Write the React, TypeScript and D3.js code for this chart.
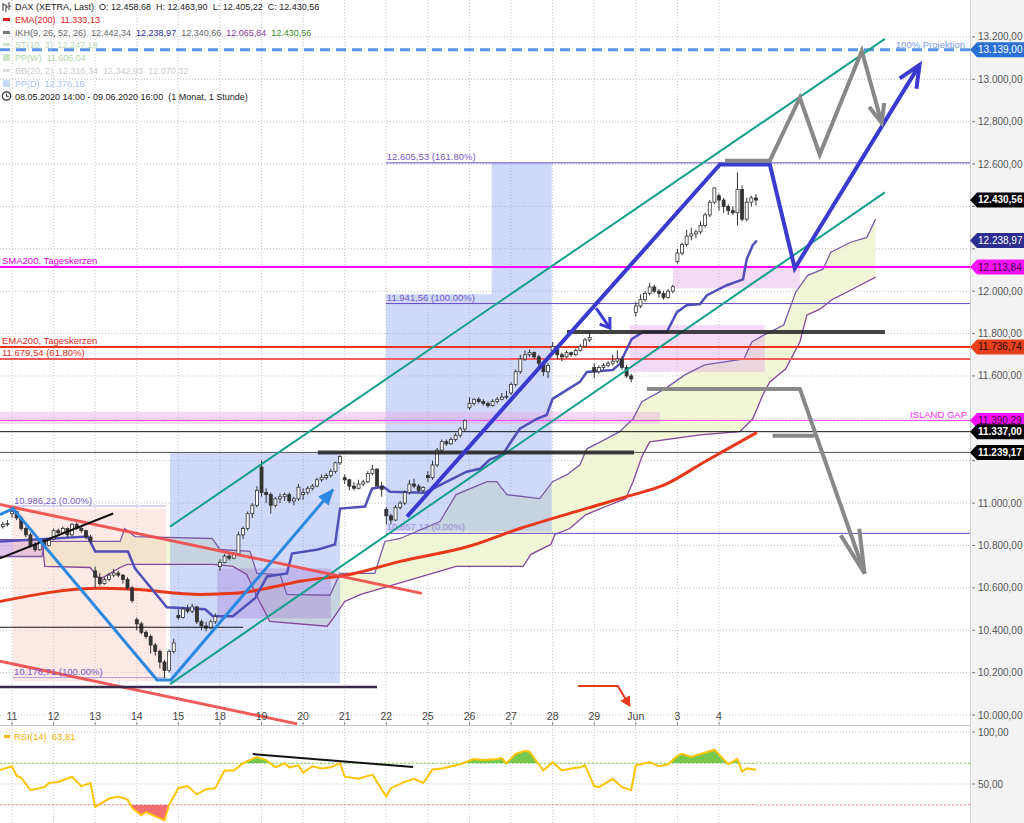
import React from 'react'
import * as d3 from 'd3'

type Pt = [number, number]
type Ohlc = [number, number, number, number]

// time axis: 4 hourly bars of 8 May, then 9 bars per trading day
const dayLabels = ['11', '12', '13', '14', '15', '18', '19', '20', '21', '22', '25', '26', '27', '28', '29', 'Jun', '3', '4']
const barsPerDay = 9
const firstDayBar = 4

// hourly candles [open, high, low, close]
const candles: Ohlc[] = [
  // 8 May
  [10860, 10880, 10850, 10870], [10870, 10900, 10860, 10890], [10890, 10910, 10880, 10900], [10900, 10920, 10890, 10904],
  // 11 May
  [10950, 10986, 10930, 10960], [10960, 10965, 10920, 10930], [10930, 10940, 10870, 10880], [10880, 10890, 10840, 10850],
  [10850, 10860, 10790, 10800], [10800, 10815, 10770, 10780], [10780, 10830, 10775, 10820], [10820, 10830, 10790, 10800], [10800, 10830, 10795, 10824],
  // 12 May
  [10830, 10880, 10825, 10870], [10870, 10880, 10850, 10860], [10860, 10890, 10855, 10880], [10880, 10885, 10840, 10850],
  [10850, 10905, 10845, 10900], [10900, 10910, 10875, 10880], [10880, 10890, 10860, 10870], [10870, 10875, 10830, 10840], [10840, 10850, 10810, 10820],
  // 13 May
  [10680, 10700, 10600, 10650], [10650, 10670, 10610, 10620], [10620, 10650, 10615, 10640], [10640, 10670, 10630, 10660],
  [10660, 10690, 10650, 10670], [10670, 10680, 10650, 10660], [10660, 10665, 10620, 10640], [10640, 10650, 10590, 10600], [10600, 10610, 10530, 10540],
  // 14 May
  [10450, 10460, 10400, 10430], [10430, 10440, 10380, 10390], [10390, 10400, 10360, 10370], [10370, 10380, 10290, 10330],
  [10330, 10340, 10280, 10300], [10300, 10310, 10220, 10250], [10250, 10260, 10176, 10210], [10210, 10310, 10200, 10300], [10300, 10360, 10290, 10340],
  // 15 May
  [10470, 10500, 10450, 10460], [10460, 10510, 10455, 10500], [10500, 10520, 10480, 10490], [10490, 10525, 10480, 10510],
  [10510, 10515, 10430, 10440], [10440, 10450, 10400, 10420], [10420, 10440, 10395, 10410], [10410, 10450, 10405, 10440], [10440, 10480, 10430, 10465],
  // 18 May
  [10700, 10735, 10680, 10720], [10720, 10760, 10715, 10750], [10750, 10760, 10730, 10740], [10740, 10770, 10735, 10760],
  [10760, 10865, 10755, 10850], [10850, 10890, 10830, 10880], [10880, 10960, 10870, 10950], [10950, 11000, 10930, 10990], [10990, 11080, 10980, 11060],
  // 19 May
  [11170, 11200, 11030, 11050], [11050, 11070, 11000, 11040], [11040, 11050, 10950, 10990], [10990, 11030, 10980, 11020],
  [11020, 11045, 11000, 11030], [11030, 11050, 11010, 11040], [11040, 11050, 11000, 11010], [11010, 11030, 10990, 11020], [11020, 11090, 11010, 11075],
  // 20 May
  [11040, 11070, 11015, 11050], [11050, 11080, 11040, 11070], [11070, 11090, 11060, 11080], [11080, 11120, 11075, 11110],
  [11110, 11135, 11100, 11120], [11120, 11140, 11110, 11130], [11130, 11160, 11120, 11150], [11150, 11195, 11140, 11190], [11190, 11225, 11180, 11220],
  // 21 May
  [11120, 11135, 11090, 11110], [11110, 11115, 11060, 11080], [11080, 11100, 11060, 11070], [11070, 11110, 11065, 11090],
  [11090, 11110, 11080, 11100], [11100, 11150, 11095, 11140], [11140, 11180, 11130, 11160], [11160, 11165, 11080, 11080], [11080, 11100, 11030, 11065],
  // 22 May
  [10970, 10980, 10900, 10940], [10940, 10950, 10900, 10920], [10920, 10990, 10915, 10980], [10980, 11010, 10970, 11000],
  [11000, 11060, 10990, 11050], [11050, 11110, 11040, 11090], [11090, 11115, 11070, 11080], [11080, 11090, 11050, 11060], [11060, 11080, 11050, 11074],
  // 25 May
  [11130, 11150, 11100, 11120], [11120, 11200, 11110, 11180], [11180, 11260, 11170, 11250], [11250, 11300, 11240, 11290],
  [11290, 11300, 11270, 11280], [11280, 11310, 11275, 11300], [11300, 11330, 11290, 11320], [11320, 11360, 11310, 11350], [11350, 11395, 11340, 11390],
  // 26 May
  [11450, 11500, 11440, 11470], [11470, 11495, 11460, 11490], [11490, 11500, 11470, 11480], [11480, 11490, 11460, 11470],
  [11470, 11480, 11450, 11460], [11460, 11490, 11455, 11480], [11480, 11500, 11470, 11490], [11490, 11520, 11485, 11500], [11500, 11530, 11490, 11504],
  // 27 May
  [11520, 11570, 11510, 11560], [11560, 11630, 11550, 11620], [11620, 11700, 11610, 11680], [11680, 11720, 11670, 11700],
  [11700, 11725, 11690, 11710], [11710, 11715, 11680, 11690], [11690, 11700, 11640, 11660], [11660, 11670, 11600, 11620], [11620, 11660, 11590, 11650],
  // 28 May
  [11720, 11760, 11710, 11740], [11740, 11745, 11680, 11700], [11700, 11710, 11670, 11690], [11690, 11720, 11685, 11710],
  [11710, 11715, 11690, 11700], [11700, 11730, 11695, 11720], [11720, 11750, 11715, 11740], [11740, 11780, 11735, 11770], [11770, 11810, 11760, 11781],
  // 29 May
  [11640, 11660, 11590, 11620], [11620, 11650, 11610, 11640], [11640, 11660, 11630, 11650], [11650, 11670, 11640, 11660],
  [11660, 11700, 11650, 11670], [11670, 11720, 11660, 11680], [11680, 11690, 11630, 11640], [11640, 11650, 11590, 11600], [11600, 11610, 11570, 11586],
  // 2 Jun
  [11900, 11950, 11880, 11930], [11930, 11985, 11920, 11960], [11960, 12000, 11950, 11990], [11990, 12040, 11980, 12020],
  [12020, 12030, 11990, 12000], [12000, 12010, 11970, 11990], [11990, 12000, 11960, 11970], [11970, 12010, 11965, 12000], [12000, 12030, 11990, 12021],
  // 3 Jun
  [12140, 12200, 12130, 12180], [12180, 12230, 12170, 12220], [12220, 12290, 12210, 12260], [12260, 12300, 12240, 12270],
  [12270, 12290, 12250, 12280], [12280, 12330, 12270, 12310], [12310, 12370, 12300, 12360], [12360, 12430, 12350, 12420], [12420, 12490, 12410, 12487],
  // 4 Jun
  [12450, 12460, 12380, 12430], [12430, 12440, 12370, 12400], [12400, 12410, 12360, 12380], [12380, 12400, 12360, 12370],
  [12370, 12560, 12310, 12480], [12480, 12500, 12330, 12340], [12340, 12440, 12330, 12420], [12420, 12450, 12400, 12440], [12440, 12458, 12405, 12430],
]

// Ichimoku [bar, price]
const kijun: Pt[] = [
  [1.4, 10819], [20.4, 10842], [22, 10772], [29.1, 10772], [30.6, 10692], [37.5, 10508], [45.8, 10499], [47.5, 10466],
  [51.8, 10466], [56.6, 10551], [59.2, 10654], [63.5, 10668], [64.6, 10762], [70.2, 10781], [73.9, 10805], [75, 10974],
  [80.4, 10984], [81.9, 11068], [84.3, 11078], [85.8, 11054], [93.4, 11049], [98.1, 11101], [102.4, 11148], [105.3, 11162],
  [107.4, 11205], [110.2, 11228], [111.7, 11280], [113.9, 11351], [117.6, 11398], [119.7, 11416], [121, 11492], [124.1, 11534],
  [126.9, 11572], [128.4, 11619], [134, 11628], [135.5, 11656], [138.1, 11774], [140.5, 11807], [145.7, 11807], [147.9, 11901],
  [150, 11934], [152.9, 11939], [154.4, 11981], [158.7, 12028], [162.2, 12056], [163, 12151], [164.3, 12217], [165.2, 12239],
]
const senkouA: Pt[] = [
  [1.4, 10748], [10.5, 10748], [11.1, 10819], [27.4, 10819], [28.4, 10880], [30.6, 10842], [47.3, 10833], [49, 10781],
  [55.5, 10772], [57, 10668], [62, 10663], [63.5, 10569], [72.8, 10565], [75, 10668], [82.5, 10668], [84.7, 10819],
  [88, 10833], [96.6, 10913], [100.1, 11040], [106.8, 11101], [108.9, 11101], [111.1, 11040], [118.2, 11021], [121, 11101],
  [124.1, 11134], [126.9, 11181], [128.4, 11256], [132.7, 11304], [135.5, 11337], [138.4, 11398], [140.3, 11478], [145.3, 11539],
  [149.6, 11605], [153.9, 11652], [162.4, 11680], [164.1, 11760], [166.7, 11793], [171, 11840], [173.6, 11995], [176.2, 12075],
  [179.5, 12104], [181.2, 12184], [185.5, 12231], [189, 12254], [190.9, 12341],
]
const senkouB: Pt[] = [
  [1.4, 10828], [10.5, 10828], [11.1, 10701], [20.9, 10696], [23, 10640], [27.4, 10696], [28.9, 10711], [47.5, 10711],
  [51.8, 10701], [54.8, 10663], [57.2, 10551], [59.8, 10442], [72.2, 10419], [73.5, 10456], [76, 10536], [79.5, 10569],
  [100.1, 10701], [114.6, 10701], [116.3, 10758], [120.6, 10805], [121.5, 10852], [124.7, 10880], [128.2, 10946], [132.5, 10984],
  [136.8, 11021], [138.4, 11101], [140.3, 11219], [142, 11289], [152.9, 11322], [161.5, 11337], [164.3, 11398], [166.5, 11511],
  [168, 11572], [171.4, 11633], [174.5, 11760], [176, 11887], [178.8, 11915], [181.6, 11962], [184.6, 11995], [187.5, 12028],
  [190.9, 12066],
]
const ema200: Pt[] = [
  [1.4, 10536], [23, 10598], [30.2, 10593], [44.7, 10569], [52.2, 10574], [59.2, 10598], [66.3, 10631], [77.1, 10663],
  [88, 10725], [102.7, 10795], [113.9, 10880], [128.2, 10974], [137.7, 11035], [145.3, 11087], [153.9, 11195], [160.4, 11275],
  [165.2, 11333],
]

// RSI(14) [bar, value]
const rsi14: Pt[] = [
  [1, 63], [4, 67], [5, 58], [6, 56], [8, 44], [11, 47], [12, 51], [14, 52], [17, 57], [19, 48], [21, 51], [22, 28],
  [25, 36], [27, 38], [29, 35], [30, 27], [32, 20], [33, 23], [37, 15], [38, 30], [40, 46], [42, 48], [44, 40], [46, 45],
  [48, 46], [50, 63], [52, 63], [54, 70], [57, 76], [59, 73], [61, 66], [63, 70], [64, 66], [66, 68], [67, 61], [69, 67],
  [71, 65], [73, 66], [75, 70], [76, 57], [79, 55], [82, 59], [83, 52], [85, 38], [86, 46], [89, 52], [91, 55], [93, 51],
  [95, 64], [97, 65], [101, 69], [104, 74], [106, 73], [109, 74], [110, 75], [111, 70], [113, 79], [115, 82], [116, 81],
  [118, 69], [119, 63], [121, 71], [123, 63], [125, 65], [127, 66], [128, 68], [130, 48], [131, 47], [134, 55], [136, 47],
  [138, 44], [139, 68], [142, 71], [144, 67], [146, 69], [148, 77], [149, 79], [151, 76], [156, 83], [159, 69], [161, 74],
  [162, 62], [163, 65], [165, 63.81],
]

// price levels
const priceTicks = [10000, 10200, 10400, 10600, 10800, 11000, 11200, 11400, 11600, 11800, 12000, 12200, 12400, 12600, 12800, 13000, 13200]
const rsiTicks = [50, 100]
const sma200Daily = 12113.84
const ema200Daily = 11736.74
const fib618 = 11679.54
const islandGap = 11390.29
const support1 = 11337.0
const support2 = 11239.17
const projection = 13139.0
const fibRight = [10857.17, 11941.56, 12605.53]
const fibRightPct = [0, 100, 161.8]
const fibLeft = [10986.22, 10176.71]
const fibLeftPct = [0, 100]
const lastPrice = 12430.56
const kijunLast = 12238.97

// drawn boxes [barFrom, barTo, priceTop, priceBottom]
const blueBoxes = [[38.2, 75, 11239, 10150], [84.9, 120.8, 11986, 10866], [107.8, 120.8, 12605, 11986]]
const peachBoxes = [[4.2, 37.3, 10974, 10160]]
const purpleBoxes = [[48.4, 73, 10692, 10456]]
const pinkBoxes = [[-2, 144.2, 11431, 11374], [137.7, 166.9, 11840, 11619], [147, 174.5, 12122, 12014]]

// drawn lines [bar, price]
const channelUpper: Pt[] = [[38.2, 10889], [192.9, 13191]]
const channelLower: Pt[] = [[38.2, 10146], [192.9, 12466]]
const downtrendUpper: Pt[] = [[1.4, 10993], [92.7, 10574]]
const downtrendLower: Pt[] = [[1.4, 10254], [65.7, 9958]]
const shortUptrend: Pt[] = [[1.4, 10739], [25.9, 10951]]
const resistance1: Pt[] = [[70.2, 11239], [138.6, 11239]]
const resistance2: Pt[] = [[124.1, 11807], [192.9, 11807]]
const supportLeft: Pt[] = [[1.4, 10414], [54, 10414]]
const lowLine: Pt[] = [[1.4, 10132], [83, 10132]]
const waveDown: Pt[] = [[1.4, 10946], [4.2, 10974], [35.4, 10165], [38.2, 10165]]
const waveUp: Pt[] = [[38.2, 10160], [73.5, 11064]]
const mainPath: Pt[] = [[89.5, 10936], [157.2, 12598], [168, 12598], [173.4, 12108], [200.4, 13068]]
const pullback: Pt[] = [[130.4, 11920], [133.4, 11826]]
const grayUp: Pt[] = [[158.3, 12616], [168, 12616], [174.5, 12913], [178.8, 12645], [187.9, 13134], [192.2, 12795]]
const grayDown: Pt[] = [[141.4, 11539], [174.5, 11539], [188.5, 10668]]
const grayShort: Pt[] = [[168.6, 11318], [177.7, 11318]]
const redHint: Pt[] = [[126.5, 10137], [135.1, 10137], [137.7, 10042]]
const rsiDivergence: Pt[] = [[56.1, 78.8], [90.8, 66.3]]

const font = '"Liberation Sans", Arial, sans-serif'
const de = d3.formatLocale({ decimal: ',', thousands: '.', grouping: [3], currency: ['', ''] })
const fmt = de.format(',.2f')

function interp(pts: Pt[], b: number) {
  if (b <= pts[0][0]) return pts[0][1]
  for (let i = 1; i < pts.length; i++) {
    if (b <= pts[i][0]) {
      const t = (b - pts[i - 1][0]) / (pts[i][0] - pts[i - 1][0])
      return pts[i - 1][1] + t * (pts[i][1] - pts[i - 1][1])
    }
  }
  return pts[pts.length - 1][1]
}

export default function App() {
  const W = 1024
  const H = 823
  const plotRight = 970
  const x = d3.scaleLinear().domain([firstDayBar, firstDayBar + 17 * barsPerDay]).range([12, 719])
  const y = d3.scaleLinear().domain([10000, 13200]).range([715, 36.9])
  const ry = d3.scaleLinear().domain([50, 100]).range([784, 732])
  const line = d3.line<Pt>().x((d) => x(d[0])).y((d) => y(d[1]))
  const rline = d3.line<Pt>().x((d) => x(d[0])).y((d) => ry(d[1]))

  const head = (pts: Pt[], len: number, spread = 0.45) => {
    const a0 = pts[pts.length - 2]
    const a1 = pts[pts.length - 1]
    const x1 = x(a0[0]), y1 = y(a0[1]), x2 = x(a1[0]), y2 = y(a1[1])
    const a = Math.atan2(y2 - y1, x2 - x1)
    const l = [x2 - len * Math.cos(a - spread), y2 - len * Math.sin(a - spread)]
    const r = [x2 - len * Math.cos(a + spread), y2 - len * Math.sin(a + spread)]
    return `M${l[0]},${l[1]}L${x2},${y2}L${r[0]},${r[1]}`
  }

  // cloud
  const cloudBars = Array.from(new Set([...senkouA, ...senkouB].map((p) => p[0]))).sort((a, b) => a - b)
  const rows = cloudBars.map((b) => ({ b, a: interp(senkouA, b), s: interp(senkouB, b) }))
  const between = d3.area<any>().x((r) => x(r.b)).y0((r) => y(r.a)).y1((r) => y(r.s))(rows) || ''
  const aboveB = d3.area<any>().x((r) => x(r.b)).y0(0).y1((r) => y(r.s))(rows) || ''
  const belowB = d3.area<any>().x((r) => x(r.b)).y0((r) => y(r.s)).y1(H)(rows) || ''

  // rsi fills
  const over = d3.area<Pt>().x((d) => x(d[0])).y0(ry(70)).y1((d) => ry(d[1]))(rsi14) || ''
  const under = d3.area<Pt>().x((d) => x(d[0])).y0(ry(30)).y1((d) => ry(d[1]))(rsi14) || ''

  const dayX = dayLabels.map((_, k) => x(firstDayBar + k * barsPerDay))
  const box = (bx: number[], fill: string, op: number, key: string) => (
    <rect key={key} x={x(bx[0])} y={y(bx[2])} width={x(bx[1]) - x(bx[0])} height={y(bx[3]) - y(bx[2])} fill={fill} opacity={op} />
  )
  const hline = (p: number, color: string, w: number, from = 0, dash?: string) => (
    <line x1={from} x2={plotRight} y1={y(p)} y2={y(p)} stroke={color} strokeWidth={w} strokeDasharray={dash} />
  )

  const tags = [
    { v: projection, fill: '#2a6fd6', color: '#fff', bold: false },
    { v: lastPrice, fill: '#000', color: '#fff', bold: true },
    { v: kijunLast, fill: '#2d2d8f', color: '#fff', bold: false },
    { v: sma200Daily, fill: '#ff10ff', color: '#3a003a', bold: false },
    { v: ema200Daily, fill: '#e8401c', color: '#2a0a00', bold: false },
    { v: islandGap, fill: '#ff10ff', color: '#3a003a', bold: false },
    { v: support1, fill: '#000', color: '#fff', bold: true },
    { v: support2, fill: '#000', color: '#fff', bold: true },
  ]
  const freeTicks = priceTicks.filter((p) => tags.every((t) => Math.abs(y(p) - y(t.v)) > 10))

  const legendRows: { y: number; parts: { t: string; c: string }[] }[] = [
    { y: 10, parts: [{ t: 'DAX (XETRA, Last)', c: '#222' }, { t: 'O: 12.458,68', c: '#222' }, { t: 'H: 12.463,90', c: '#222' }, { t: 'L: 12.405,22', c: '#222' }, { t: 'C: 12.430,56', c: '#222' }] },
    { y: 23, parts: [{ t: 'EMA(200)', c: '#e02020' }, { t: '11.333,13', c: '#e02020' }] },
    { y: 35.5, parts: [{ t: 'IKH(9, 26, 52, 26)', c: '#666' }, { t: '12.442,34', c: '#666' }, { t: '12.238,97', c: '#2a2aa0' }, { t: '12.340,66', c: '#666' }, { t: '12.065,84', c: '#8a3aa0' }, { t: '12.430,56', c: '#3a8a2a' }] },
    { y: 48, parts: [{ t: 'ST(10, 3)', c: '#bcd8b4' }, { t: '12.247,18', c: '#bcd8b4' }] },
    { y: 61, parts: [{ t: 'PP(W)', c: '#b4d4ac' }, { t: '11.606,04', c: '#b4d4ac' }] },
    { y: 73.5, parts: [{ t: 'BB(20, 2)', c: '#cccccc' }, { t: '12.316,34', c: '#cccccc' }, { t: '12.342,93', c: '#cccccc' }, { t: '12.070,32', c: '#cccccc' }] },
    { y: 86.5, parts: [{ t: 'PP(D)', c: '#aac2f2' }, { t: '12.376,16', c: '#aac2f2' }] },
    { y: 99.5, parts: [{ t: '08.05.2020 14:00 - 09.06.2020 16:00', c: '#222' }, { t: '(1 Monat, 1 Stunde)', c: '#222' }] },
  ]

  return (
    <svg width={W} height={H} style={{ position: 'absolute', left: 0, top: 0, display: 'block', background: '#fff' }} fontFamily={font}>
      <defs>
        <clipPath id="aboveB"><path d={aboveB} /></clipPath>
        <clipPath id="belowB"><path d={belowB} /></clipPath>
        <clipPath id="rsiOver"><rect x={0} y={720} width={plotRight} height={ry(70) - 720} /></clipPath>
        <clipPath id="rsiUnder"><rect x={0} y={ry(30)} width={plotRight} height={H - ry(30)} /></clipPath>
      </defs>

      {/* axis strip */}
      <rect x={plotRight} y={0} width={W - plotRight} height={H} fill="#f3f3f3" />
      <line x1={plotRight + 0.5} x2={plotRight + 0.5} y1={0} y2={H} stroke="#cfcfcf" />

      {/* grid */}
      {priceTicks.map((p) => (
        <line key={'g' + p} x1={0} x2={plotRight} y1={y(p)} y2={y(p)} stroke="#c4c4c4" strokeDasharray="1,2" />
      ))}
      {dayX.map((dx, k) => (
        <line key={'v' + k} x1={dx} x2={dx} y1={0} y2={H} stroke="#c8c8c8" strokeDasharray="1,2" />
      ))}

      {/* cloud */}
      <path d={between} fill="#eef5cf" opacity={0.85} clipPath="url(#aboveB)" />
      <path d={between} fill="#c690d8" opacity={0.55} clipPath="url(#belowB)" />

      {/* boxes */}
      {peachBoxes.map((b, i) => box(b, '#f9c9bd', 0.4, 'pe' + i))}
      {blueBoxes.map((b, i) => box(b, '#8aa0f2', 0.4, 'bl' + i))}
      {purpleBoxes.map((b, i) => box(b, '#a070d0', 0.32, 'pu' + i))}
      {pinkBoxes.map((b, i) => box(b, '#e6a6e6', 0.42, 'pk' + i))}

      {/* cloud lines */}
      <path d={line(senkouA) || ''} fill="none" stroke="#7a5aa8" strokeWidth={1.3} />
      <path d={line(senkouB) || ''} fill="none" stroke="#84479c" strokeWidth={1.3} />

      {/* horizontal levels */}
      {hline(projection, '#5a94e6', 3, 0, '10,6')}
      {hline(sma200Daily, '#ff00ff', 2)}
      {hline(ema200Daily, '#ee3322', 2)}
      {hline(fib618, '#f25c5c', 2)}
      {hline(islandGap, '#ff44ff', 1)}
      {hline(support1, '#111', 1)}
      {hline(support2, '#555', 1)}
      {fibRight.map((p) => (
        <line key={'fr' + p} x1={x(84.9)} x2={plotRight} y1={y(p)} y2={y(p)} stroke="#6a48c8" strokeWidth={1} />
      ))}
      {fibLeft.map((p) => (
        <line key={'fl' + p} x1={x(4.2)} x2={x(37.3)} y1={y(p)} y2={y(p)} stroke="#8a70d0" strokeWidth={1} opacity={0.6} />
      ))}

      {/* EMA 200 and Kijun */}
      <path d={d3.line<Pt>().x((d) => x(d[0])).y((d) => y(d[1])).curve(d3.curveMonotoneX)(ema200) || ''} fill="none" stroke="#e8381c" strokeWidth={3} />
      <path d={line(kijun) || ''} fill="none" stroke="#5050b8" strokeWidth={2.5} />

      {/* candles */}
      {candles.map((c, i) => {
        const [o, h, l, cl] = c
        const cx = x(i)
        const up = cl >= o
        const top = y(Math.max(o, cl))
        const hgt = Math.max(1, y(Math.min(o, cl)) - top)
        return (
          <g key={'c' + i}>
            <line x1={cx} x2={cx} y1={y(h)} y2={y(l)} stroke="#333" strokeWidth={1} />
            <rect x={cx - 1.5} y={top} width={3} height={hgt} fill={up ? '#fff' : '#333'} stroke="#333" strokeWidth={0.8} />
          </g>
        )
      })}

      {/* drawings */}
      <path d={line(channelUpper) || ''} stroke="#13a08a" strokeWidth={2} fill="none" />
      <path d={line(channelLower) || ''} stroke="#13a08a" strokeWidth={2} fill="none" />
      <path d={line(downtrendUpper) || ''} stroke="#f04848" strokeWidth={3} fill="none" opacity={0.9} />
      <path d={line(downtrendLower) || ''} stroke="#f04848" strokeWidth={3} fill="none" opacity={0.9} />
      <path d={line(shortUptrend) || ''} stroke="#111" strokeWidth={2} fill="none" />
      <path d={line(resistance1) || ''} stroke="#222" strokeWidth={4} fill="none" opacity={0.85} />
      <path d={line(resistance2) || ''} stroke="#222" strokeWidth={4} fill="none" opacity={0.85} />
      <path d={line(supportLeft) || ''} stroke="#111" strokeWidth={1.2} fill="none" />
      <path d={line(lowLine) || ''} stroke="#3a2a4a" strokeWidth={2.5} fill="none" />
      <path d={line(waveDown) || ''} stroke="#2a88e0" strokeWidth={3} fill="none" strokeLinejoin="round" />
      <path d={line(waveUp) || ''} stroke="#2a88e0" strokeWidth={3} fill="none" />
      <path d={head(waveUp, 16, 0.4) + 'Z'} fill="#2a88e0" stroke="#2a88e0" strokeWidth={1} />
      <path d={line(mainPath) || ''} stroke="#3a3ad0" strokeWidth={4} fill="none" strokeLinejoin="miter" />
      <path d={head(mainPath, 24, 0.42)} stroke="#3a3ad0" strokeWidth={4} fill="none" />
      <path d={line(pullback) || ''} stroke="#3a3ad0" strokeWidth={3} fill="none" />
      <path d={head(pullback, 11, 0.6)} stroke="#3a3ad0" strokeWidth={3} fill="none" />
      <path d={line(grayUp) || ''} stroke="#888" strokeWidth={4} fill="none" />
      <path d={head(grayUp, 20, 0.4)} stroke="#888" strokeWidth={4} fill="none" />
      <path d={line(grayDown) || ''} stroke="#888" strokeWidth={4} fill="none" />
      <path d={head(grayDown, 45, 0.22)} stroke="#888" strokeWidth={4} fill="none" />
      <path d={line(grayShort) || ''} stroke="#888" strokeWidth={4} fill="none" />
      <path d={line(redHint) || ''} stroke="#e8381c" strokeWidth={2} fill="none" />
      <path d={head(redHint, 10, 0.5) + 'Z'} fill="#e8381c" stroke="#e8381c" />

      {/* level labels */}
      <text x={2} y={y(sma200Daily) - 3} fontSize={9.5} fill="#e000e0">SMA200, Tageskerzen</text>
      <text x={2} y={y(ema200Daily) - 3} fontSize={9.5} fill="#e02a1a">EMA200, Tageskerzen</text>
      <text x={2} y={y(fib618) - 3} fontSize={9.5} fill="#e02a1a">{fmt(fib618)} (61.80%)</text>
      <text x={967} y={y(islandGap) - 2} fontSize={9.5} fill="#ff30ff" textAnchor="end">ISLAND GAP</text>
      <text x={965} y={y(projection) - 2} fontSize={9.5} fill="#7c9ce8" textAnchor="end">100% Projektion</text>
      {fibRight.map((p, i) => (
        <text key={'frl' + i} x={x(84.9) + 1} y={y(p) - 3} fontSize={9.5} fill="#7a5ac8" opacity={i === 0 ? 0.6 : 1}>
          {fmt(p)} ({fibRightPct[i].toFixed(2)}%)
        </text>
      ))}
      {fibLeft.map((p, i) => (
        <text key={'fll' + i} x={x(4.2) + 1} y={y(p) + (i === 0 ? -2 : -3)} fontSize={9.5} fill="#7a5ac8">
          {fmt(p)} ({fibLeftPct[i].toFixed(2)}%)
        </text>
      ))}

      {/* time axis */}
      <line x1={0} x2={plotRight} y1={725.5} y2={725.5} stroke="#c8c8c8" />
      {dayLabels.map((d, k) => (
        <g key={'d' + k}>
          <text x={dayX[k]} y={720} fontSize={10.5} fill="#444" textAnchor="middle">{d}</text>
          <line x1={dayX[k]} x2={dayX[k]} y1={722} y2={725} stroke="#888" />
        </g>
      ))}

      {/* price axis */}
      {priceTicks.map((p) => (
        <line key={'tk' + p} x1={plotRight + 2} x2={plotRight + 5} y1={y(p)} y2={y(p)} stroke="#777" />
      ))}
      {freeTicks.map((p) => (
        <text key={'t' + p} x={978} y={y(p) + 3.5} fontSize={10} fill="#555">{fmt(p)}</text>
      ))}
      {tags.map((t) => (
        <g key={'tag' + t.v}>
          <path d={`M${plotRight},${y(t.v)}L${plotRight + 7},${y(t.v) - 7.5}L${W},${y(t.v) - 7.5}L${W},${y(t.v) + 7.5}L${plotRight + 7},${y(t.v) + 7.5}Z`} fill={t.fill} />
          <text x={978} y={y(t.v) + 3.5} fontSize={10} fill={t.color} fontWeight={t.bold ? 700 : 400}>{fmt(t.v)}</text>
        </g>
      ))}

      {/* RSI pane */}
      <line x1={0} x2={plotRight} y1={ry(100)} y2={ry(100)} stroke="#c8c8c8" strokeDasharray="1,2" />
      <line x1={0} x2={plotRight} y1={ry(70)} y2={ry(70)} stroke="#7ccc5c" strokeDasharray="2,2" />
      <line x1={0} x2={plotRight} y1={ry(50)} y2={ry(50)} stroke="#c8c8c8" strokeDasharray="1,2" />
      <line x1={0} x2={plotRight} y1={ry(30)} y2={ry(30)} stroke="#f08a8a" strokeDasharray="2,2" />
      <path d={over} fill="#78c850" clipPath="url(#rsiOver)" />
      <path d={under} fill="#f07070" clipPath="url(#rsiUnder)" />
      <path d={rline(rsi14) || ''} fill="none" stroke="#ffc400" strokeWidth={2} />
      <path d={rline(rsiDivergence) || ''} fill="none" stroke="#111" strokeWidth={2} />
      <rect x={4} y={735} width={6} height={3} fill="#f0b800" />
      <text x={14} y={740} fontSize={9.5} fill="#f0b000">
        <tspan>RSI(14)</tspan>
        <tspan dx={5}>63,81</tspan>
      </text>
      {rsiTicks.map((v) => (
        <g key={'r' + v}>
          <line x1={plotRight + 2} x2={plotRight + 5} y1={ry(v)} y2={ry(v)} stroke="#777" />
          <text x={978} y={ry(v) + 3.5} fontSize={10} fill="#555">{fmt(v)}</text>
        </g>
      ))}

      {/* legend */}
      <g>
        <path d="M3,3V11M3,5H5M6,4V12M6,7H8M9,2V10M9,6H11" stroke="#333" strokeWidth={1} />
        <rect x={3} y={18} width={7} height={3} fill="#e02020" />
        <rect x={3} y={31} width={7} height={3} fill="#777" />
        <rect x={3} y={43} width={7} height={3} fill="#cfe0c8" />
        <rect x={3} y={54} width={7} height={7} fill="#b8d8b0" opacity={0.7} />
        <rect x={3} y={69} width={7} height={3} fill="#ddd" />
        <rect x={3} y={80} width={7} height={7} fill="#b0c8f4" opacity={0.7} />
        <circle cx={6.5} cy={96} r={4.2} fill="none" stroke="#333" strokeWidth={1.2} />
        <path d="M6.5,93.5V96.3H8.6" fill="none" stroke="#333" strokeWidth={1} />
        {legendRows.map((r, i) => (
          <text key={'lg' + i} x={15} y={r.y} fontSize={9}>
            {r.parts.map((p, j) => (
              <tspan key={j} dx={j === 0 ? 0 : 5} fill={p.c}>{p.t}</tspan>
            ))}
          </text>
        ))}
      </g>
    </svg>
  )
}
